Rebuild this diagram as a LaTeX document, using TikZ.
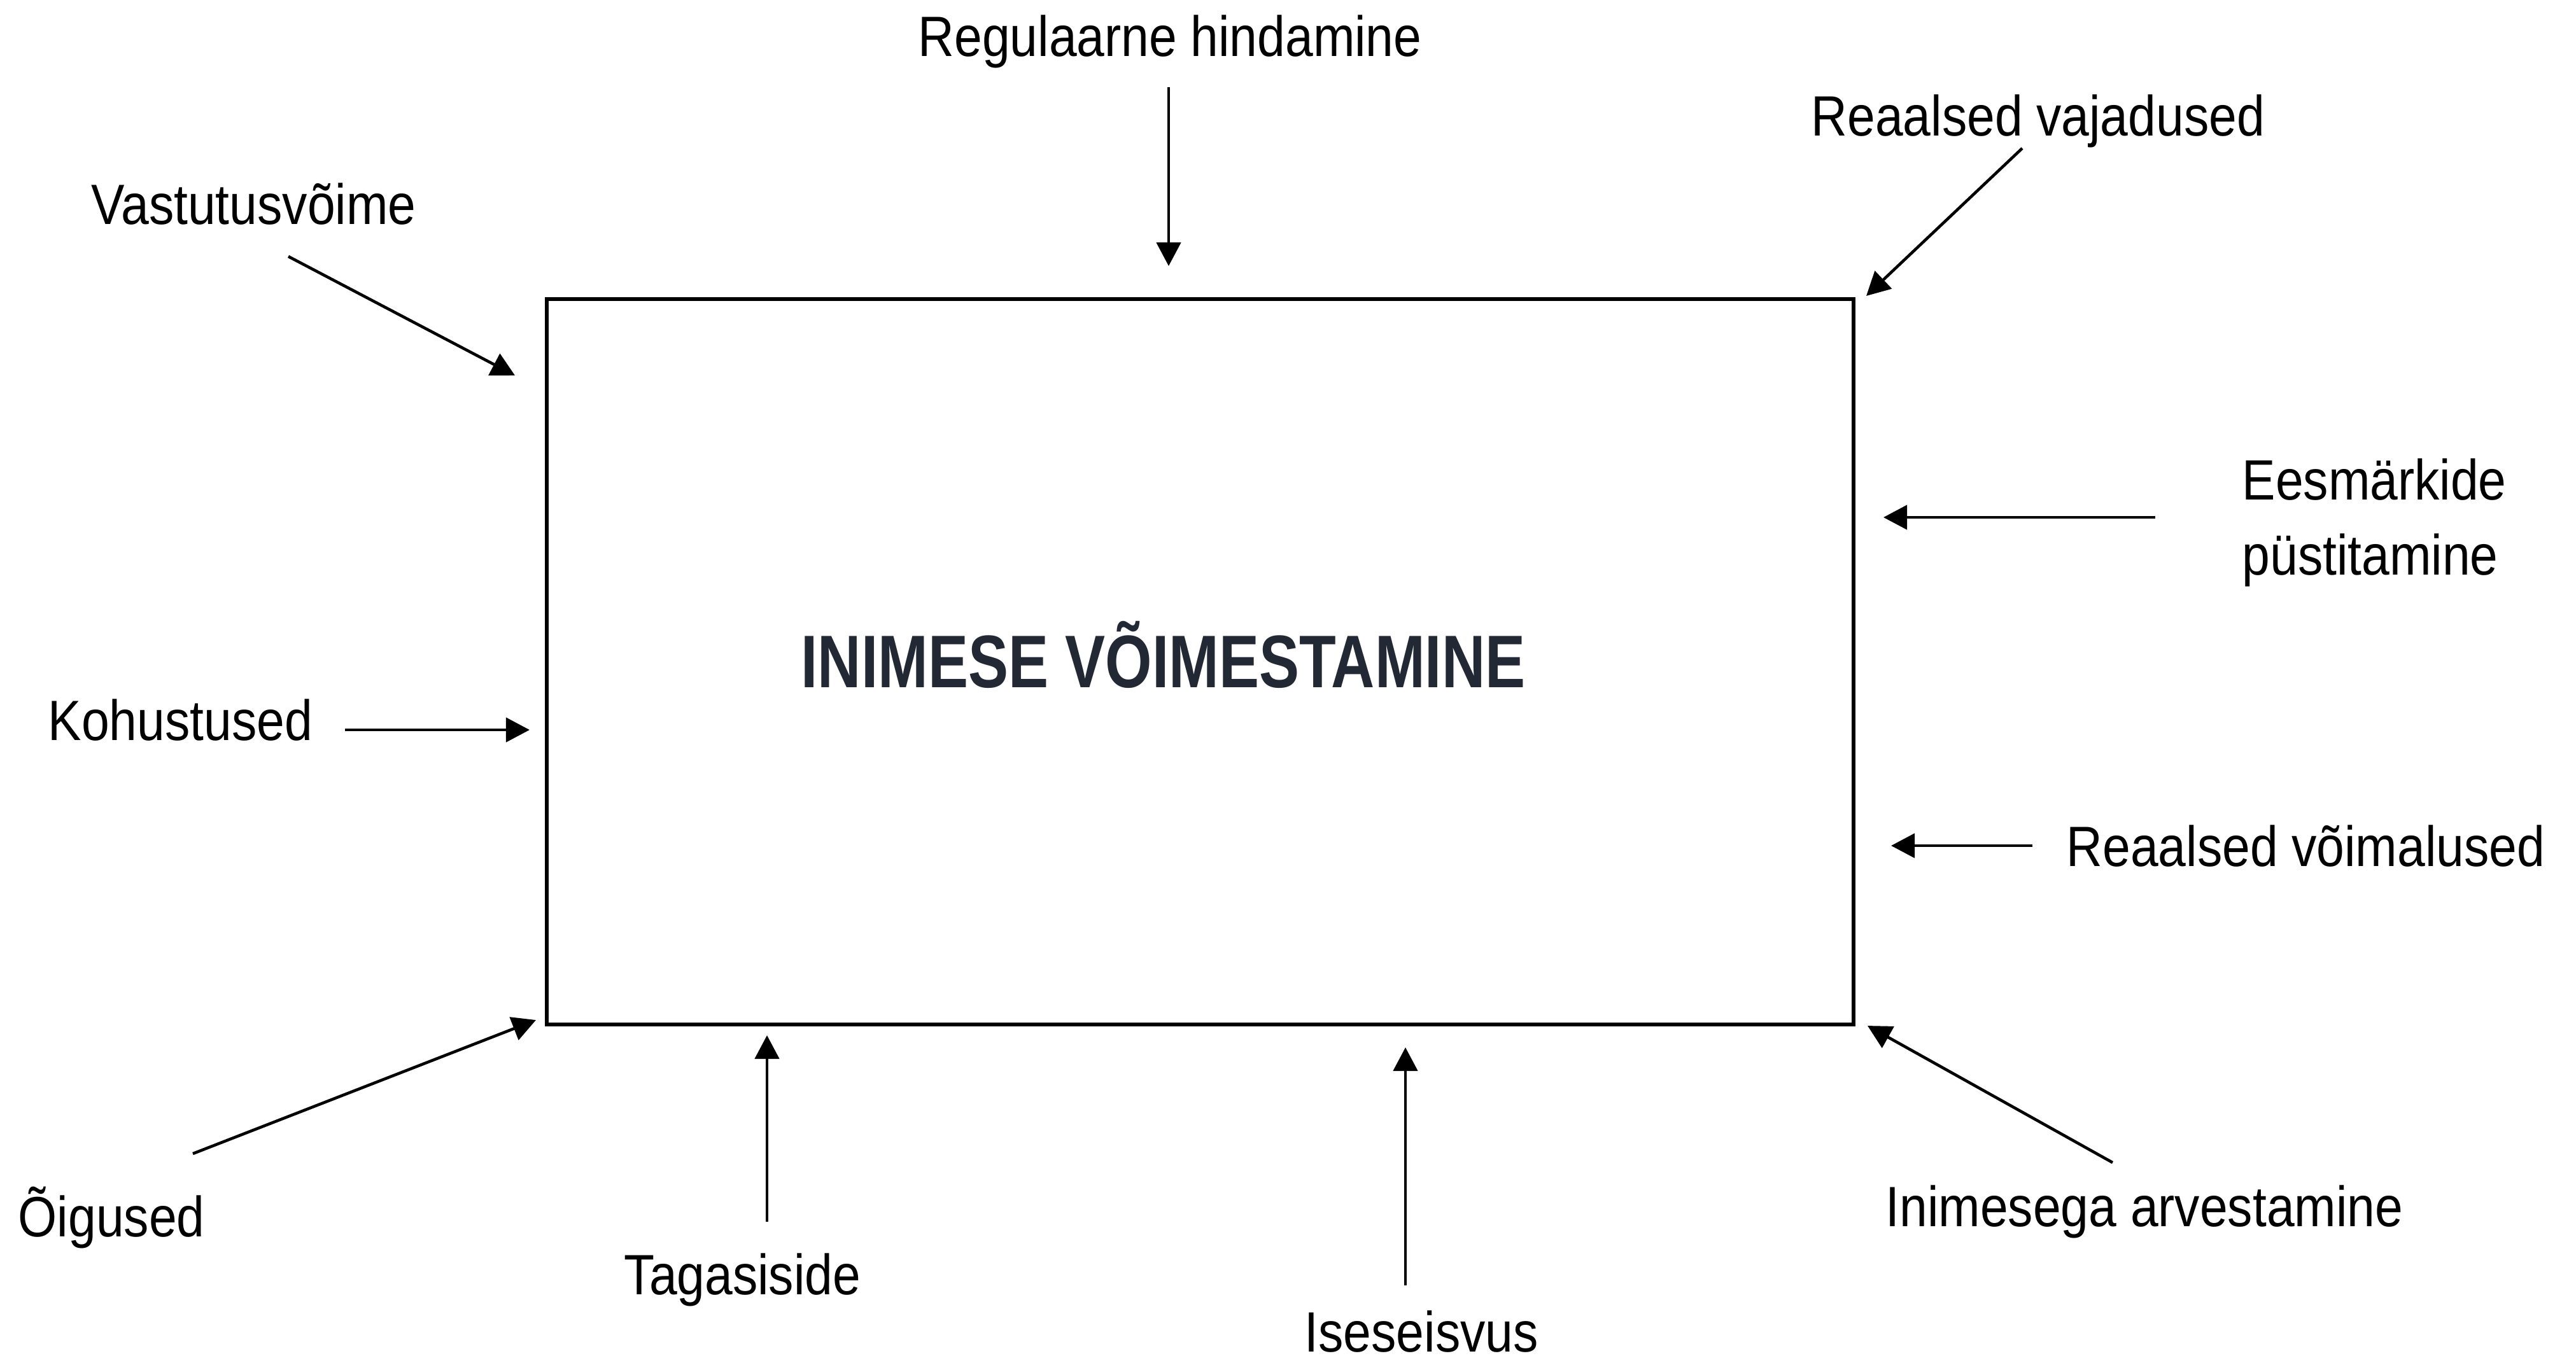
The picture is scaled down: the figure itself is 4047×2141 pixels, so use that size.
\documentclass[tikz,border=0pt]{standalone}
\usepackage{fontspec}
\setmainfont{Liberation Sans}[FakeStretch=0.88]
\newfontfamily\titlefont{Liberation Sans}[FakeStretch=0.807]
\usetikzlibrary{arrows.meta}
\definecolor{titlecol}{RGB}{35,41,52}
\tikzset{
  lbl/.style={inner sep=0pt, anchor=base west, text=black, font=\fontsize{25.4pt}{30pt}\selectfont},
  arr/.style={line width=1.3pt, draw=black, -{Triangle[length=0.37cm,width=0.38cm]}},
  mainbox/.style={draw=black, line width=1.7pt, inner sep=0pt, minimum width=20.51cm, minimum height=11.40cm},
  ttl/.style={inner sep=0pt, anchor=base west, text=titlecol, font=\titlefont\bfseries\fontsize{33.3pt}{40pt}\selectfont}
}
\begin{document}
\begin{tikzpicture}[x=0.01cm,y=-0.01cm]
\useasboundingbox (0,0) rectangle (4047,2141);
% main box and title
\node[mainbox] (box) at (1885.5,1040) {};
\node[ttl] (title) at (1258,1080) {INIMESE VÕIMESTAMINE};
% labels
\node[lbl] (reg) at (1442,88) {Regulaarne hindamine};
\node[lbl] (vaj) at (2845,213) {Reaalsed vajadused};
\node[lbl] (vas) at (143,352) {Vastutusvõime};
\node[lbl] (koh) at (75,1163) {Kohustused};
\node[lbl] (ees) at (3522,785) {\vtop{\baselineskip=1.18cm\hbox{Eesmärkide}\hbox{püstitamine}}};
\node[lbl] (voi) at (3246,1361) {Reaalsed võimalused};
\node[lbl] (oig) at (28,1943) {Õigused};
\node[lbl] (tag) at (980,2034) {Tagasiside};
\node[lbl] (ise) at (2049,2124) {Iseseisvus};
\node[lbl] (ini) at (2962,1927) {Inimesega arvestamine};
% arrow end points
\coordinate (regT) at (1836,137);  \coordinate (regH) at (1836,418);
\coordinate (vajT) at (3177,233);  \coordinate (vajH) at (2932,465);
\coordinate (vasT) at (453,403);   \coordinate (vasH) at (809,590);
\coordinate (kohT) at (542,1147);  \coordinate (kohH) at (832,1147);
\coordinate (eesT) at (3386,813);  \coordinate (eesH) at (2959,813);
\coordinate (voiT) at (3193,1329); \coordinate (voiH) at (2971,1329);
\coordinate (oigT) at (303,1813);  \coordinate (oigH) at (842,1603);
\coordinate (tagT) at (1205,1920); \coordinate (tagH) at (1205,1627);
\coordinate (iseT) at (2208,2020); \coordinate (iseH) at (2208,1646);
\coordinate (iniT) at (3319,1827); \coordinate (iniH) at (2934,1612);
% arrows
\draw[arr] (regT) -- (regH);
\draw[arr] (vajT) -- (vajH);
\draw[arr] (vasT) -- (vasH);
\draw[arr] (kohT) -- (kohH);
\draw[arr] (eesT) -- (eesH);
\draw[arr] (voiT) -- (voiH);
\draw[arr] (oigT) -- (oigH);
\draw[arr] (tagT) -- (tagH);
\draw[arr] (iseT) -- (iseH);
\draw[arr] (iniT) -- (iniH);
\end{tikzpicture}
\end{document}
